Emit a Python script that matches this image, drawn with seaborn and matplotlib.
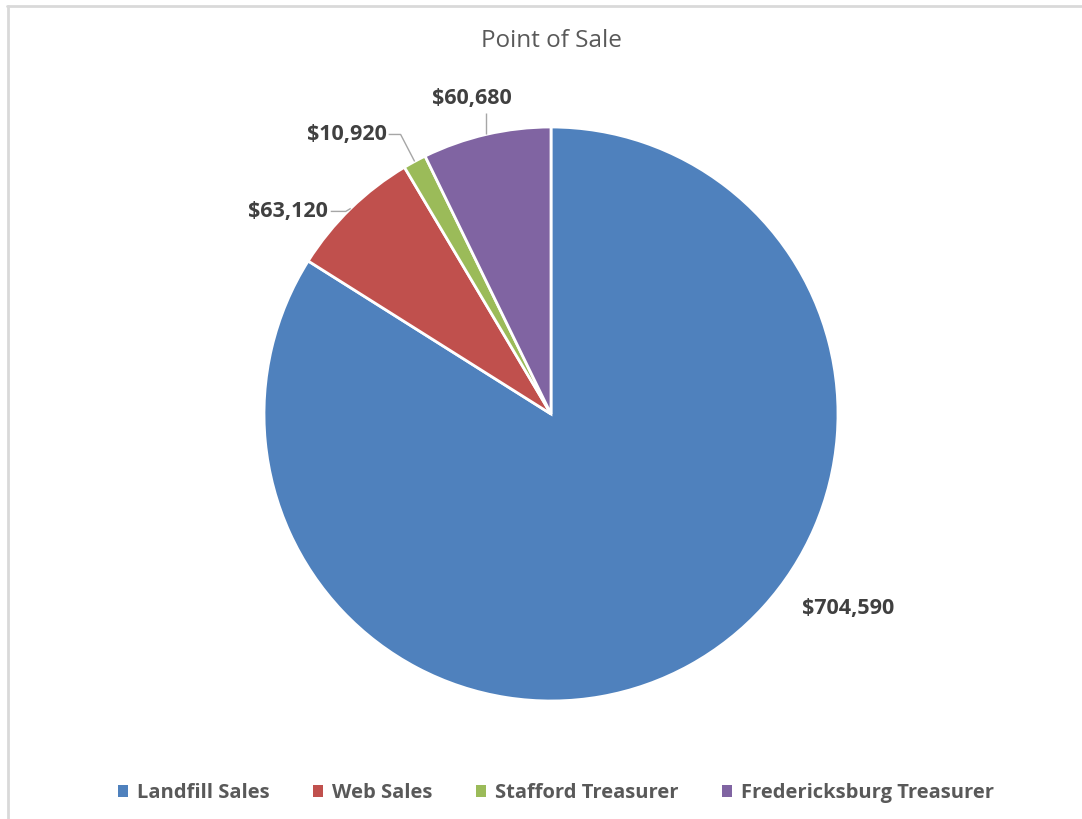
import numpy as np
import seaborn as sns
import matplotlib.pyplot as plt
from matplotlib.lines import Line2D
from matplotlib.patches import Patch

# data
categories = ['Landfill Sales', 'Web Sales', 'Stafford Treasurer', 'Fredericksburg Treasurer']
sales = [704590, 63120, 10920, 60680]
value_labels = ['${:,}'.format(v) for v in sales]

sns.set_theme(style='white')
plt.rcParams['font.family'] = ['Open Sans', 'DejaVu Sans']

colors = ['#4F81BD', '#C0504D', '#9BBB59', '#8064A2']
label_color = '#404040'
legend_color = '#595959'

W, H = 1082, 819
fig = plt.figure(figsize=(W / 100, H / 100), dpi=100)

# pie centre and radius in pixels (from top-left)
cx, cy, R = 551, 414, 287
ax = fig.add_axes([(cx - R) / W, (H - cy - R) / H, 2 * R / W, 2 * R / H])

wedges, _ = ax.pie(sales, colors=colors, startangle=90, counterclock=False,
                   radius=1, wedgeprops=dict(edgecolor='white', linewidth=2))
ax.set_xlim(-1, 1)
ax.set_ylim(-1, 1)
ax.set_aspect('equal')
ax.axis('off')

px = 1.0 / R  # one pixel in data units

# label offsets (pixels, y up) from the wedge's outer midpoint + leader line bends
label_style = [
    dict(dx=158, dy=57, ha='center', va='center', leader=None),
    dict(dx=-23, dy=-3, ha='right', va='center', leader=[(-5, -3), (-20, -3)]),
    dict(dx=-28, dy=27, ha='right', va='center', leader=[(-14, 27), (-26, 27)]),
    dict(dx=-14, dy=25, ha='center', va='bottom', leader=[(0, 21)]),
]

for w, txt, st in zip(wedges, value_labels, label_style):
    mid = np.deg2rad((w.theta1 + w.theta2) / 2)
    ax0, ay0 = np.cos(mid), np.sin(mid)
    tx = ax0 + st['dx'] * px
    ty = ay0 + st['dy'] * px
    ax.text(tx, ty, txt, ha=st['ha'], va=st['va'], fontsize=15.5,
            fontweight='bold', color=label_color, clip_on=False)
    if st['leader']:
        pts = [(ax0, ay0)] + [(ax0 + a * px, ay0 + b * px) for a, b in st['leader']]
        xs, ys = zip(*pts)
        ax.plot(xs, ys, color='#a6a6a6', lw=1, solid_capstyle='butt', clip_on=False)

fig.text(cx / W, 1 - 41 / H, 'Point of Sale', ha='center', va='center',
         fontsize=17.5, color=legend_color)

handles = [Patch(facecolor=c, edgecolor='none') for c in colors]
leg = fig.legend(handles, categories, loc='center', ncol=4,
                 bbox_to_anchor=(556 / W, 1 - 793 / H), frameon=False,
                 fontsize=14.5, handlelength=0.5, handleheight=0.5,
                 handletextpad=0.45, columnspacing=2.15)
for t in leg.get_texts():
    t.set_color(legend_color)
    t.set_fontweight('bold')

# light chart-area frame (top and left edges visible)
fig.add_artist(Line2D([7 / W, 1], [1 - 6 / H, 1 - 6 / H], color='#d9d9d9', lw=2))
fig.add_artist(Line2D([8 / W, 8 / W], [0, 1 - 6 / H], color='#d9d9d9', lw=2))

fig.savefig('out.png', dpi=100)
